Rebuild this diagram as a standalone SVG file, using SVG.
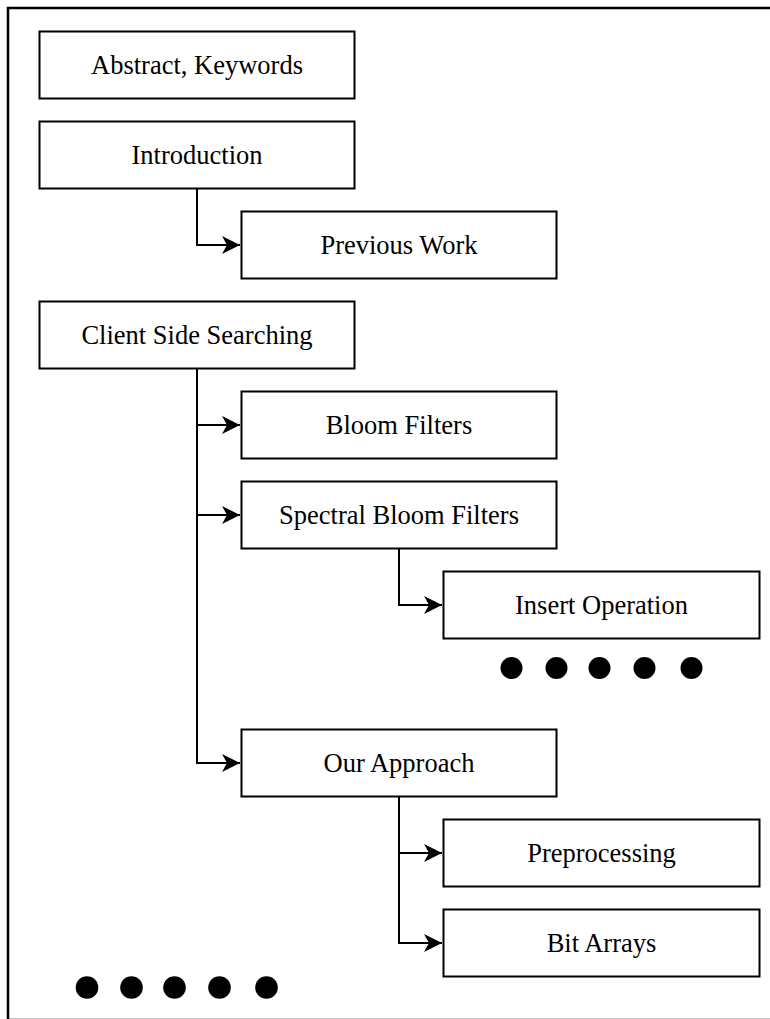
<svg xmlns="http://www.w3.org/2000/svg" width="770" height="1019" viewBox="0 0 770 1019">
<style>
.box{fill:#fff;stroke:#000;stroke-width:2}
.lbl{font-family:"Liberation Serif","Times New Roman",serif;font-size:26.5px;fill:#000;text-anchor:middle}
.edge{fill:none;stroke:#000;stroke-width:2;marker-end:url(#arr)}
.dot{fill:#000}
</style>
<defs>
<marker id="arr" markerUnits="userSpaceOnUse" markerWidth="20" markerHeight="20" viewBox="-19 -10 20 20" refX="0" refY="0" orient="auto">
<path d="M0,0 L-18,-9 L-13,0 L-18,9 Z" fill="#000"/>
</marker>
</defs>
<rect x="8" y="8" width="790" height="1012" fill="#fff" stroke="#000" stroke-width="2.5"/>
<g id="connectors">
<path class="edge" d="M197,189 V245 H240"/>
<path class="edge" d="M197,369 V425 H240"/>
<path class="edge" d="M197,369 V515 H240"/>
<path class="edge" d="M197,369 V763 H240"/>
<path class="edge" d="M399,549 V605 H442"/>
<path class="edge" d="M399,796 V853 H442"/>
<path class="edge" d="M399,796 V943 H442"/>
</g>
<g id="n-abstract"><rect class="box" x="39.5" y="31.5" width="315" height="67"/><text class="lbl" x="197" y="73.5">Abstract, Keywords</text></g>
<g id="n-intro"><rect class="box" x="39.5" y="121.5" width="315" height="67"/><text class="lbl" x="197" y="163.5">Introduction</text></g>
<g id="n-prev"><rect class="box" x="241.5" y="211.5" width="315" height="67"/><text class="lbl" x="399" y="253.5">Previous Work</text></g>
<g id="n-client"><rect class="box" x="39.5" y="301.5" width="315" height="67"/><text class="lbl" x="197" y="343.5">Client Side Searching</text></g>
<g id="n-bloom"><rect class="box" x="241.5" y="391.5" width="315" height="67"/><text class="lbl" x="399" y="433.5">Bloom Filters</text></g>
<g id="n-spectral"><rect class="box" x="241.5" y="481.5" width="315" height="67"/><text class="lbl" x="399" y="523.5">Spectral Bloom Filters</text></g>
<g id="n-insert"><rect class="box" x="443.5" y="571.5" width="316" height="67"/><text class="lbl" x="601.5" y="613.5">Insert Operation</text></g>
<g id="n-dots1">
<circle class="dot" cx="511.5" cy="668" r="11"/><circle class="dot" cx="556.5" cy="668" r="11"/><circle class="dot" cx="599.5" cy="668" r="11"/><circle class="dot" cx="644.5" cy="668" r="11"/><circle class="dot" cx="691.5" cy="668" r="11"/>
</g>
<g id="n-approach"><rect class="box" x="241.5" y="729.5" width="315" height="67"/><text class="lbl" x="399" y="771.5">Our Approach</text></g>
<g id="n-pre"><rect class="box" x="443.5" y="819.5" width="316" height="67"/><text class="lbl" x="601.5" y="861.5">Preprocessing</text></g>
<g id="n-bit"><rect class="box" x="443.5" y="909.5" width="316" height="67"/><text class="lbl" x="601.5" y="951.5">Bit Arrays</text></g>
<g id="n-dots2">
<circle class="dot" cx="87" cy="987.5" r="11.3"/><circle class="dot" cx="131.5" cy="987.5" r="11.3"/><circle class="dot" cx="174.5" cy="987.5" r="11.3"/><circle class="dot" cx="219.5" cy="987.5" r="11.3"/><circle class="dot" cx="266.5" cy="987.5" r="11.3"/>
</g>
</svg>
